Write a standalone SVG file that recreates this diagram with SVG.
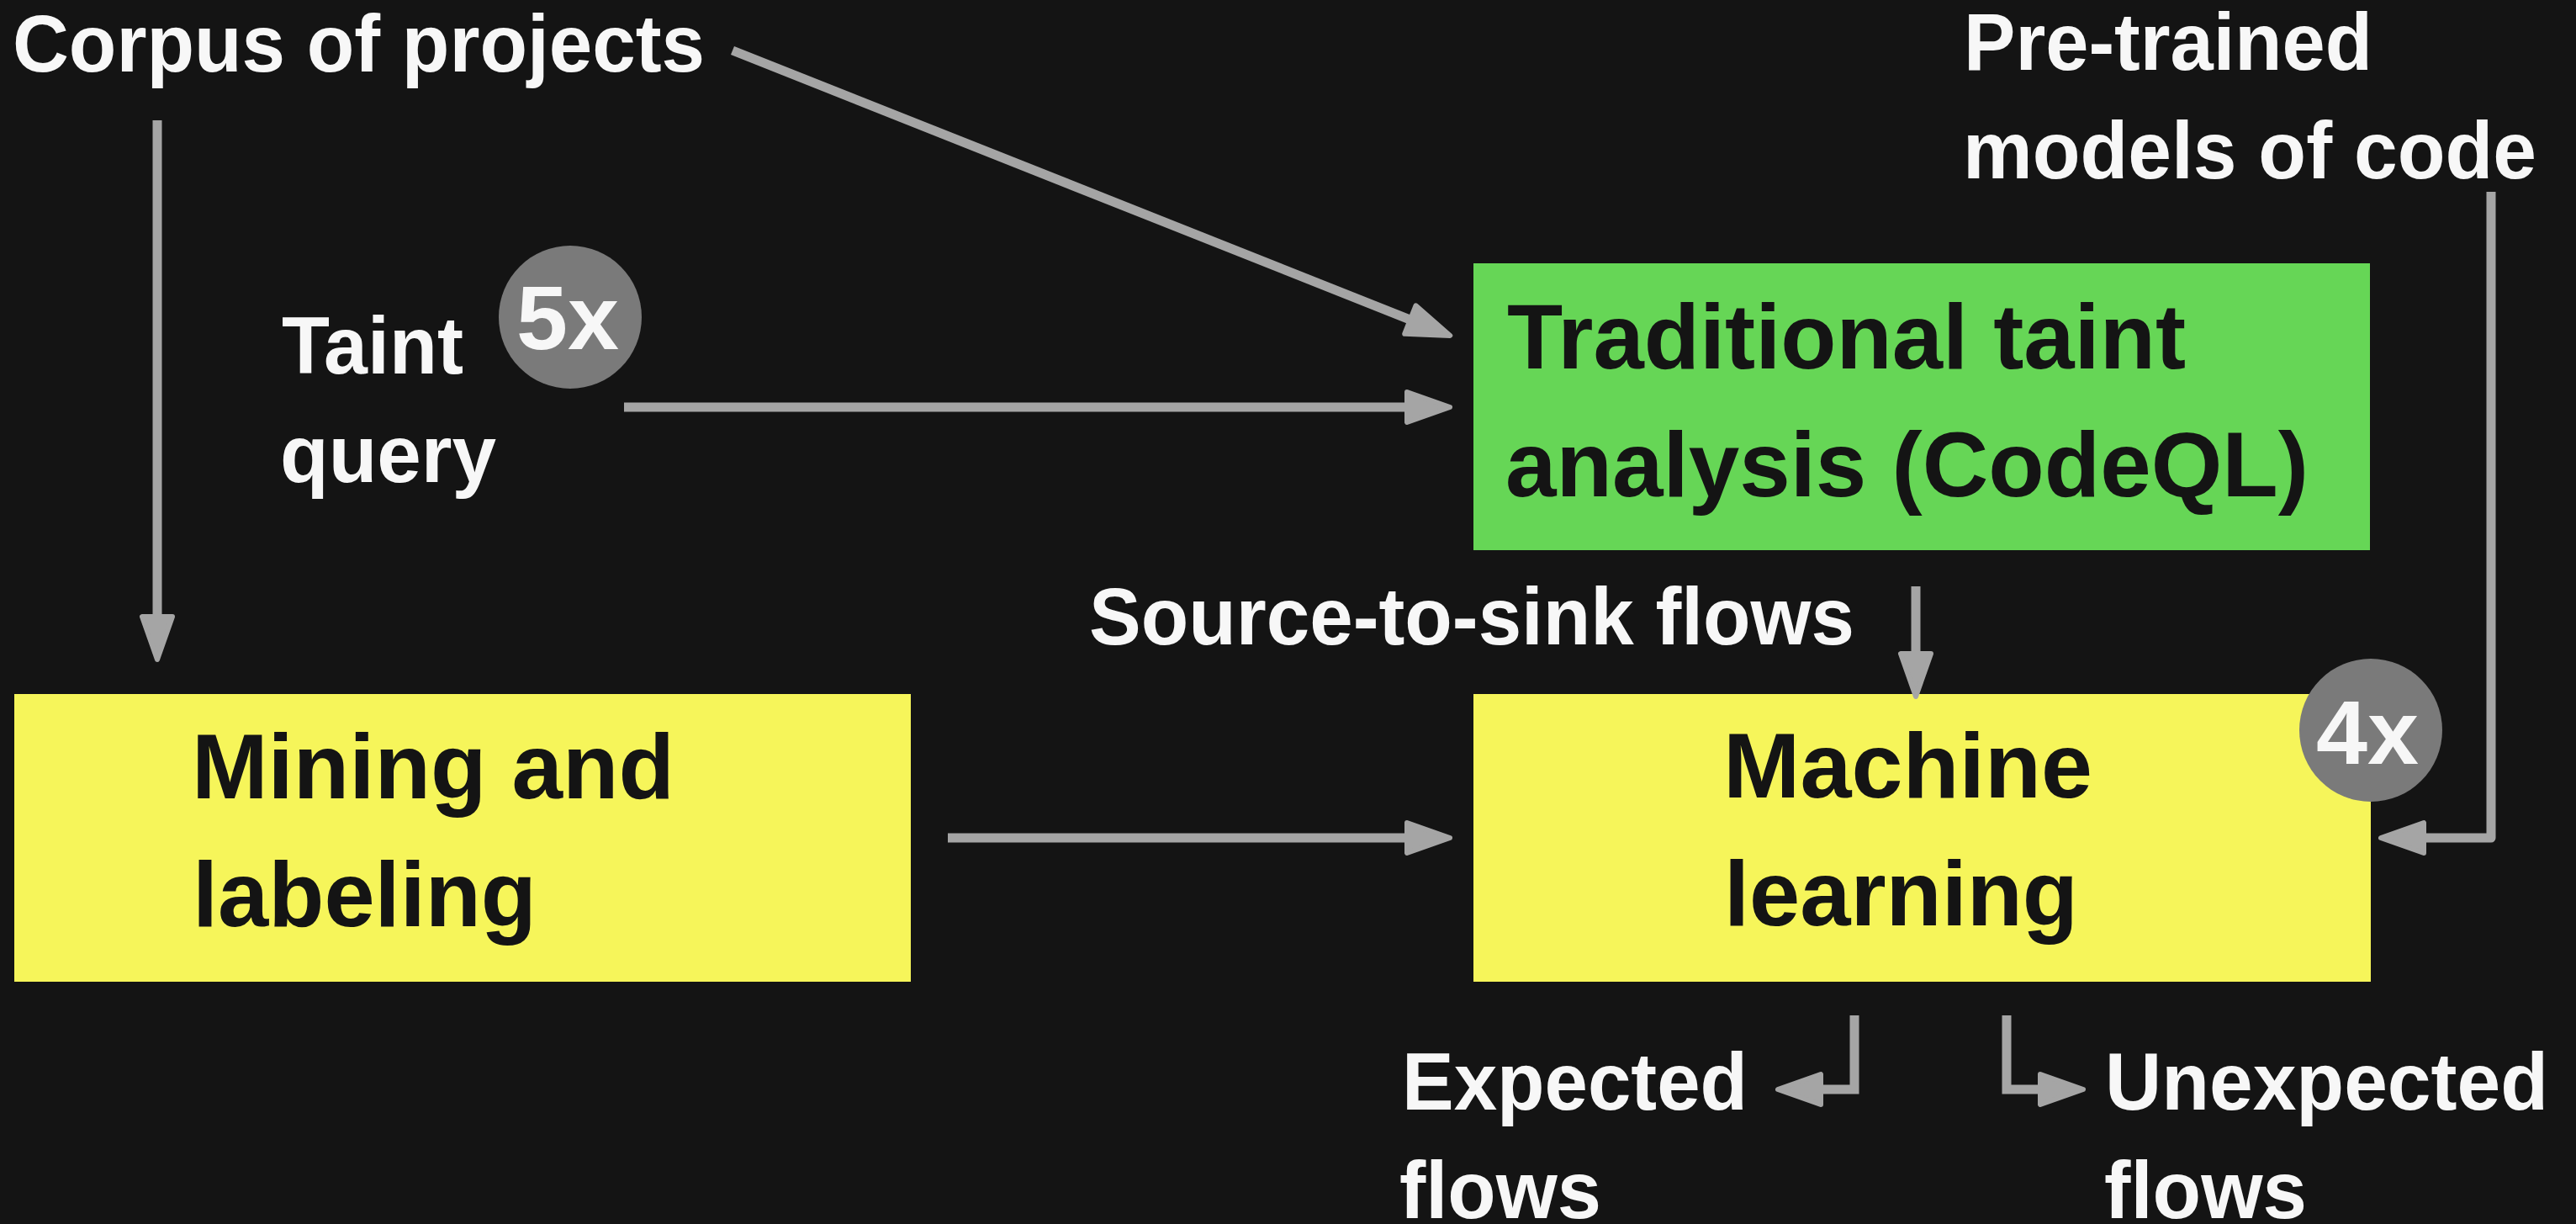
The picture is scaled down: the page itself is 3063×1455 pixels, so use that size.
<svg xmlns="http://www.w3.org/2000/svg" width="3063" height="1455" viewBox="0 0 3063 1455">
  <style>
    .bg { fill: #141414; }
    .label { font-family: "Liberation Sans", Arial, Helvetica, sans-serif; font-weight: bold; font-size: 96px; fill: #f7f7f7; }
    .boxtext { font-family: "Liberation Sans", Arial, Helvetica, sans-serif; font-weight: bold; font-size: 110px; fill: #141414; }
    .badgetext { font-family: "Liberation Sans", Arial, Helvetica, sans-serif; font-weight: bold; font-size: 108px; fill: #f7f7f7; text-anchor: middle; }
    .green { fill: #66d656; }
    .yellow { fill: #f6f55a; }
    .badge { fill: #7a7a7a; }
    .conn { fill: none; stroke: #a5a5a5; stroke-width: 11; }
  </style>
  <defs>
    <marker id="head" markerUnits="userSpaceOnUse" markerWidth="70" markerHeight="50" refX="5" refY="0" viewBox="-2 -25 64 50" orient="auto" overflow="visible">
      <path d="M3,-18 L54,0 L3,18 Z" fill="#a5a5a5" stroke="#a5a5a5" stroke-width="6" stroke-linejoin="round"/>
    </marker>
  </defs>

  <rect class="bg" x="0" y="0" width="3063" height="1455"/>

  <!-- free-standing labels -->
  <g id="corpus">
    <text class="label" x="15" y="85" textLength="823" lengthAdjust="spacingAndGlyphs">Corpus of projects</text>
  </g>
  <g id="pretrained">
    <text class="label" x="2335" y="83" textLength="486" lengthAdjust="spacingAndGlyphs">Pre-trained</text>
    <text class="label" x="2334" y="212" textLength="682" lengthAdjust="spacingAndGlyphs">models of code</text>
  </g>
  <g id="taint-query">
    <text class="label" x="335" y="444" textLength="216" lengthAdjust="spacingAndGlyphs">Taint</text>
    <text class="label" x="333" y="573" textLength="257" lengthAdjust="spacingAndGlyphs">query</text>
  </g>
  <g id="badge-5x">
    <circle class="badge" cx="678" cy="377" r="85"/>
    <text class="badgetext" x="675" y="415" textLength="122" lengthAdjust="spacingAndGlyphs">5x</text>
  </g>
  <g id="flows-label">
    <text class="label" x="1295" y="766" textLength="910" lengthAdjust="spacingAndGlyphs">Source-to-sink flows</text>
  </g>
  <g id="expected">
    <text class="label" x="1667" y="1319" textLength="411" lengthAdjust="spacingAndGlyphs">Expected</text>
    <text class="label" x="1664" y="1448" textLength="240" lengthAdjust="spacingAndGlyphs">flows</text>
  </g>
  <g id="unexpected">
    <text class="label" x="2503" y="1319" textLength="527" lengthAdjust="spacingAndGlyphs">Unexpected</text>
    <text class="label" x="2502" y="1448" textLength="241" lengthAdjust="spacingAndGlyphs">flows</text>
  </g>

  <!-- process boxes -->
  <g id="taint-analysis">
    <rect class="green" x="1752" y="313" width="1066" height="341"/>
    <text class="boxtext" x="1792" y="438" textLength="807" lengthAdjust="spacingAndGlyphs">Traditional taint</text>
    <text class="boxtext" x="1790" y="590" textLength="955" lengthAdjust="spacingAndGlyphs">analysis (CodeQL)</text>
  </g>
  <g id="mining">
    <rect class="yellow" x="17" y="825" width="1066" height="342"/>
    <text class="boxtext" x="228" y="949" textLength="574" lengthAdjust="spacingAndGlyphs">Mining and</text>
    <text class="boxtext" x="229" y="1101" textLength="409" lengthAdjust="spacingAndGlyphs">labeling</text>
  </g>
  <g id="machine-learning">
    <rect class="yellow" x="1752" y="825" width="1067" height="342"/>
    <text class="boxtext" x="2049" y="948" textLength="439" lengthAdjust="spacingAndGlyphs">Machine</text>
    <text class="boxtext" x="2050" y="1100" textLength="421" lengthAdjust="spacingAndGlyphs">learning</text>
  </g>
  <g id="badge-4x">
    <circle class="badge" cx="2819" cy="868" r="85"/>
    <text class="badgetext" x="2815" y="908" textLength="122" lengthAdjust="spacingAndGlyphs">4x</text>
  </g>

  <!-- connectors -->
  <g id="connectors">
    <path class="conn" d="M187,143 V735" marker-end="url(#head)"/>
    <path class="conn" d="M871,60 L1678.7,380.8" marker-end="url(#head)"/>
    <path class="conn" d="M742,484 H1675" marker-end="url(#head)"/>
    <path class="conn" d="M1127,996 H1675" marker-end="url(#head)"/>
    <path class="conn" d="M2278,697 V779" marker-end="url(#head)"/>
    <path class="conn" d="M2962,228 V996 H2880" stroke-linejoin="round" marker-end="url(#head)"/>
    <path class="conn" d="M2205,1207 V1295 H2163" marker-end="url(#head)"/>
    <path class="conn" d="M2386,1207 V1295 H2428" marker-end="url(#head)"/>
  </g>
</svg>
